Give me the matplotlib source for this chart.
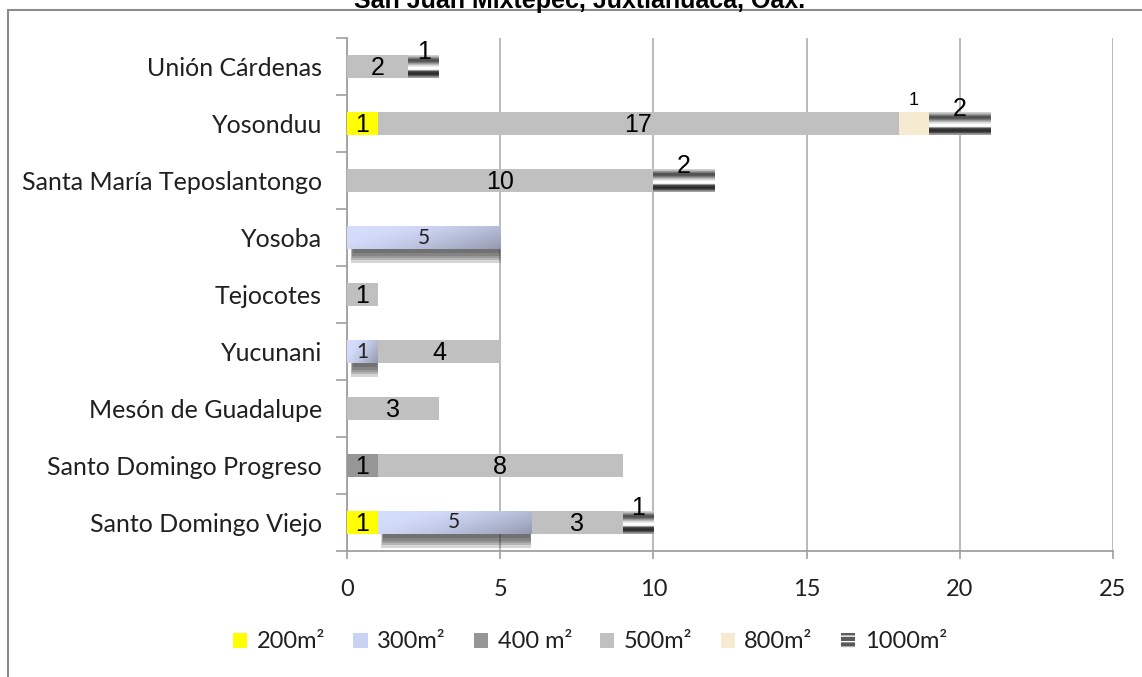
import numpy as np
import matplotlib.pyplot as plt
from matplotlib.patches import Patch, Rectangle
from matplotlib.colors import to_rgb

places = ['Santo Domingo Viejo', 'Santo Domingo Progreso', 'Mesón de Guadalupe',
          'Yucunani', 'Tejocotes', 'Yosoba', 'Santa María Teposlantongo',
          'Yosonduu', 'Unión Cárdenas']
s200 = [1, 0, 0, 0, 0, 0, 0, 1, 0]
s300 = [5, 0, 0, 1, 0, 5, 0, 0, 0]
s400 = [0, 1, 0, 0, 0, 0, 0, 0, 0]
s500 = [3, 8, 3, 4, 1, 0, 10, 17, 2]
s800 = [0, 0, 0, 0, 0, 0, 0, 1, 0]
s1000 = [1, 0, 0, 0, 0, 0, 2, 2, 1]
series_names = ['200m²', '300m²', '400 m²', '500m²', '800m²', '1000m²']
title = 'San Juan Mixtepec, Juxtlahuaca, Oax.'

colors = ['#ffff00', '#c9d2f2', '#969696', '#c0c0c0', '#f6ead0', '#6a6a6a']

plt.rcParams['font.family'] = ['Lato', 'DejaVu Sans']

fig = plt.figure(figsize=(11.42, 6.77), dpi=100)
ax = fig.add_axes([347 / 1142, 1 - 551 / 677, (1113 - 347) / 1142, (551 - 38) / 677])

# vertical profile of the striped 1000 m2 fill (top to bottom)
stripe = ['#cfcfcf', '#8c8c8c', '#4c4c4c', '#5c5c5c', '#9c9c9c', '#dadada',
          '#ffffff', '#ffffff', '#4e4e4e', '#2a2a2a', '#3c3c3c', '#a0a0a0']
stripe_img = np.array([to_rgb(c) for c in stripe]).reshape(-1, 1, 3)

# light blue -> dark blue-grey gradient for 300 m2
gx = np.linspace(0, 1, 60)
gy = np.linspace(0, 1, 12)
t = np.clip(0.75 * gx[None, :] + 0.35 * gy[:, None] - 0.2, 0, 1) ** 1.4
c1 = np.array(to_rgb('#d4dcfb'))
c2 = np.array(to_rgb('#8a90a4'))
blue_img = c1[None, None, :] * (1 - t[..., None]) + c2[None, None, :] * t[..., None]

h = 0.4
y = np.arange(len(places))
left = np.zeros(len(places))
all_series = [s200, s300, s400, s500, s800, s1000]
for k, vals in enumerate(all_series):
    vals = np.array(vals, dtype=float)
    if k in (1, 5):
        bars = ax.barh(y, vals, left=left, height=h, color='none', edgecolor='none', zorder=3)
        for b in bars:
            if b.get_width() <= 0:
                continue
            x0, y0, w = b.get_x(), b.get_y(), b.get_width()
            if k == 1:
                # soft shadow below the bar
                for d in [0.0, 0.04, 0.08, 0.12, 0.16]:
                    bottom = y0 - 0.24 + d
                    ax.barh((bottom + y0 + 0.1) / 2, w - 0.1 - d * 0.6, left=x0 + 0.12 + d * 0.4,
                            height=y0 + 0.1 - bottom, color='#202020', alpha=0.18, zorder=2,
                            edgecolor='none')
            im = ax.imshow(blue_img if k == 1 else stripe_img, aspect='auto',
                           extent=(x0, x0 + w, y0, y0 + h), zorder=3.5,
                           interpolation='bilinear')
            im.set_clip_path(b)
    else:
        ax.barh(y, vals, left=left, height=h, color=colors[k], edgecolor='none', zorder=3)
    for i, v in enumerate(vals):
        if v <= 0:
            continue
        cx = left[i] + v / 2
        if k == 5:
            ax.text(cx, y[i] + 0.25, f'{v:g}', ha='center', va='center', fontsize=18,
                    family='Liberation Sans', zorder=5)
        elif k == 4:
            ax.text(cx, y[i] + 0.4, f'{v:g}', ha='center', va='center', fontsize=13,
                    family='Liberation Sans', zorder=5)
        elif k == 1:
            ax.text(cx, y[i], f'{v:g}', ha='center', va='center', fontsize=15,
                    color='#202020', zorder=5)
        else:
            ax.text(cx, y[i] - 0.03, f'{v:g}', ha='center', va='center', fontsize=18,
                    family='Liberation Sans', zorder=5)
    left += vals

ax.set_xlim(0, 25)
ax.set_ylim(-0.5, len(places) - 0.5)
ax.set_xticks([0, 5, 10, 15, 20, 25])
ax.set_yticks(y)
ax.set_yticklabels(places)
ax.set_yticks(np.arange(-0.5, len(places), 1), minor=True)
ax.tick_params(axis='y', which='major', length=0, pad=18, labelsize=18, labelcolor='#202020')
ax.tick_params(axis='y', which='minor', length=8, color='#a0a0a0', width=1.2)
ax.tick_params(axis='x', length=6, color='#a0a0a0', width=1.2, pad=14, labelsize=17,
               labelcolor='#202020')
ax.grid(axis='x', color='#b4b4b4', lw=1.3, zorder=0)
for s in ['top', 'right']:
    ax.spines[s].set_visible(False)
for s in ['left', 'bottom']:
    ax.spines[s].set_color('#a0a0a0')
    ax.spines[s].set_linewidth(1.3)

handles = [Patch(facecolor=c, edgecolor='none') for c in colors]
handles[5] = Patch(facecolor='#5a5a5a', edgecolor='white', hatch='---', lw=0)
fig.legend(handles, series_names, loc='center', bbox_to_anchor=(590 / 1142, 1 - 642 / 677),
           ncol=6, frameon=False, fontsize=17, handlelength=0.6, handleheight=0.6,
           handletextpad=0.4, columnspacing=1.2, labelcolor='#202020')

fig.text(580 / 1142, 1 - 8 / 677, title, ha='center', va='baseline', fontsize=18,
         fontweight='bold', family='Liberation Sans')
fig.add_artist(Rectangle((8 / 1142, -0.1), 1.1, 1.1 - 10 / 677, transform=fig.transFigure,
                         fill=False, ec='#8c8c8c', lw=1.5, clip_on=False))

fig.savefig('out.png', dpi=100)
